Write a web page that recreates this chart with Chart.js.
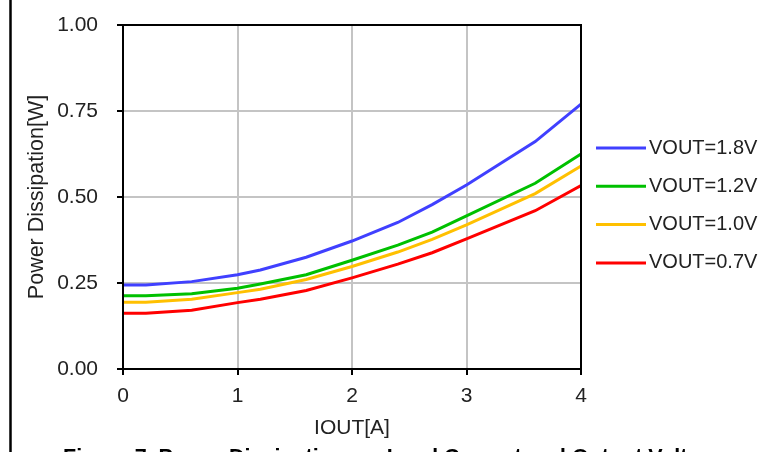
<!DOCTYPE html>
<html>
<head>
<meta charset="utf-8">
<script src="https://cdn.jsdelivr.net/npm/chart.js@4.4.1/dist/chart.umd.min.js"></script>
<style>
  html, body { margin: 0; padding: 0; background: #fff; }
  canvas { display: block; }
</style>
</head>
<body>
<canvas id="chart" width="763" height="452"></canvas>
<script>
// IOUT [A]
const ioutValues = [0, 0.2, 0.6, 1.0, 1.2, 1.6, 2.0, 2.4, 2.7, 3.0, 3.6, 4.0];
// power dissipation [W]
const vout18 = [0.244, 0.244, 0.254, 0.274, 0.288, 0.325, 0.372, 0.426, 0.478, 0.535, 0.661, 0.770];
const vout12 = [0.213, 0.213, 0.219, 0.235, 0.247, 0.274, 0.316, 0.360, 0.398, 0.445, 0.540, 0.625];
const vout10 = [0.194, 0.194, 0.203, 0.222, 0.232, 0.260, 0.298, 0.340, 0.377, 0.419, 0.510, 0.590];
const vout07 = [0.162, 0.162, 0.171, 0.193, 0.203, 0.228, 0.265, 0.305, 0.338, 0.378, 0.460, 0.533];

const seriesLabels = ['VOUT=1.8V', 'VOUT=1.2V', 'VOUT=1.0V', 'VOUT=0.7V'];
const seriesColors = ['#4040ff', '#00c000', '#ffc000', '#ff0000'];
const xTicks = [0, 1, 2, 3, 4];
const yTicks = [0, 0.25, 0.5, 0.75, 1.0];
const caption = 'Figure 7. Power Dissipation vs. Load Current and Output Voltage';

const FONT = 'Liberation Sans';
const TEXT = '#222';

function toPoints(ys) {
    return ioutValues.map((x, i) => ({ x: x, y: ys[i] }));
}

const allSeries = [vout18, vout12, vout10, vout07];

// frame, left page rule, legend and the cut-off caption
const extras = {
    id: 'extras',
    beforeDraw(chart) {
        const ctx = chart.ctx;
        ctx.save();
        ctx.fillStyle = '#fff';
        ctx.fillRect(0, 0, chart.width, chart.height);
        ctx.restore();
    },
    afterDraw(chart) {
        const { ctx, chartArea: a } = chart;
        ctx.save();
        ctx.strokeStyle = '#000';
        ctx.lineWidth = 2;
        ctx.strokeRect(a.left, a.top, a.right - a.left, a.bottom - a.top);

        ctx.lineWidth = 2.5;
        ctx.beginPath();
        ctx.moveTo(10.5, 0);
        ctx.lineTo(10.5, chart.height);
        ctx.stroke();

        // legend
        ctx.font = '20px ' + FONT;
        ctx.textBaseline = 'middle';
        ctx.fillStyle = TEXT;
        chart.data.datasets.forEach((ds, i) => {
            const y = 148 + i * 38.3;
            ctx.strokeStyle = ds.borderColor;
            ctx.lineWidth = 3;
            ctx.beginPath();
            ctx.moveTo(596, y);
            ctx.lineTo(646, y);
            ctx.stroke();
            ctx.fillText(ds.label, 649, y);
        });

        ctx.font = 'bold 21.5px ' + FONT;
        ctx.textBaseline = 'alphabetic';
        ctx.fillStyle = '#000';
        ctx.fillText(caption, 63, 464);
        ctx.restore();
    }
};

new Chart(document.getElementById('chart'), {
    type: 'line',
    data: {
        datasets: allSeries.map((ys, i) => ({
            label: seriesLabels[i],
            data: toPoints(ys),
            borderColor: seriesColors[i],
            backgroundColor: seriesColors[i],
            borderWidth: 3,
            pointRadius: 0,
            tension: 0,
            fill: false
        }))
    },
    options: {
        responsive: false,
        animation: false,
        layout: {
            padding: { left: 0, top: 25, right: 182, bottom: 0 }
        },
        scales: {
            x: {
                type: 'linear',
                min: 0,
                max: 4,
                afterBuildTicks: (scale) => { scale.ticks = xTicks.map(v => ({ value: v })); },
                afterFit: (scale) => {
                    scale.height = 83;
                    scale.paddingLeft = 0;
                    scale.paddingRight = 0;
                },
                ticks: {
                    padding: 9,
                    color: TEXT,
                    font: { family: FONT, size: 21 },
                    callback: (v) => String(v)
                },
                grid: {
                    color: '#c4c4c4',
                    lineWidth: 2,
                    tickLength: 6,
                    tickColor: '#000',
                    tickWidth: 2
                },
                border: { color: '#000', width: 2 },
                title: {
                    display: true,
                    text: 'IOUT[A]',
                    color: TEXT,
                    font: { family: FONT, size: 21 },
                    padding: { top: 0, bottom: 11 }
                }
            },
            y: {
                type: 'linear',
                min: 0,
                max: 1,
                afterBuildTicks: (scale) => { scale.ticks = yTicks.map(v => ({ value: v })); },
                afterFit: (scale) => {
                    scale.width = 123;
                    scale.paddingTop = 0;
                    scale.paddingBottom = 0;
                },
                ticks: {
                    padding: 19,
                    color: TEXT,
                    font: { family: FONT, size: 21 },
                    callback: (v) => v.toFixed(2)
                },
                grid: {
                    color: '#c4c4c4',
                    lineWidth: 2,
                    tickLength: 6,
                    tickColor: '#000',
                    tickWidth: 2
                },
                border: { color: '#000', width: 2 },
                title: {
                    display: true,
                    text: 'Power Dissipation[W]',
                    color: TEXT,
                    font: { family: FONT, size: 21.5 },
                    padding: { top: 24, bottom: 0 }
                }
            }
        },
        plugins: {
            legend: { display: false },
            tooltip: { enabled: false }
        }
    },
    plugins: [extras]
});
</script>
</body>
</html>
